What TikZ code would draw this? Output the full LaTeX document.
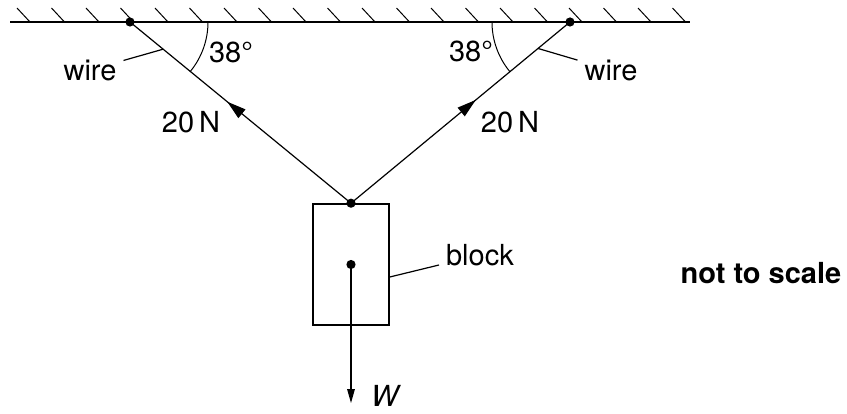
\documentclass[tikz,border=0pt]{standalone}
\usepackage{fontspec}
\setmainfont{TeX Gyre Heros}
\usetikzlibrary{arrows.meta,decorations.markings}
\begin{document}
\begin{tikzpicture}[x=0.5pt,y=0.5pt,font=\fontsize{14.5}{17}\selectfont,
  wire/.style={line width=0.6pt},
  pull/.style={postaction={decorate},decoration={markings,
    mark=at position #1 with {\arrow{Triangle[length=9.5pt,width=5.5pt]}}}},
  lead/.style={line width=0.6pt},
  dot/.style={circle,fill,inner sep=0pt,minimum size=4.6pt}]
\useasboundingbox (0,0) rectangle (847,413);
% ceiling
\draw[line width=1pt] (10,391) -- (690,391);
\foreach \i in {0,...,19}
  \draw[line width=0.5pt] (30+34.5*\i,391) -- (17+34.5*\i,405);
% block and fixing points
\node[draw,line width=0.8pt,minimum width=38pt,minimum height=60.5pt,inner sep=0pt] (block) at (351,148.5) {};
\coordinate (lp) at (130,391);
\coordinate (rp) at (570,391);
\coordinate (wend) at (351,10);
% wires
\draw[wire,pull=0.56] (block.north) -- (lp);
\draw[wire,pull=0.57] (block.north) -- (rp);
\path (lp) -- (block.north) coordinate[pos=0.15] (lw);
\path (rp) -- (block.north) coordinate[pos=0.146] (rw);
\node[dot] at (lp) {};
\node[dot] at (rp) {};
\node[dot] at (block.north) {};
\node[dot] at (block.center) {};
% weight
\draw[line width=0.6pt,-{Triangle[length=7pt,width=3.8pt]}] (block.center) -- (wend);
\node[anchor=west] (W) at (364,17) {\textit{W}};
% angles
\draw[line width=0.5pt] (lp) ++(0:78) arc[start angle=0,end angle=-39.5,radius=78];
\draw[line width=0.5pt] (rp) ++(180:78) arc[start angle=180,end angle=219.7,radius=78];
\node (angl) at (231,361) {38°};
\node (angr) at (471,362) {38°};
% labels
\node (wirel) at (90,343) {wire};
\node (wirer) at (611,343) {wire};
\draw[lead] (wirel) -- (lw);
\draw[lead] (rw) -- (wirer);
\node (forcel) at (191,291) {20\,N};
\node (forcer) at (510,291) {20\,N};
\node (blockl) at (480,158) {block};
\draw[lead] (block.east |- 0,136) -- (blockl);
\node[font=\fontsize{14.5}{17}\selectfont\bfseries] (nts) at (761,140) {not to scale};
\end{tikzpicture}
\end{document}
